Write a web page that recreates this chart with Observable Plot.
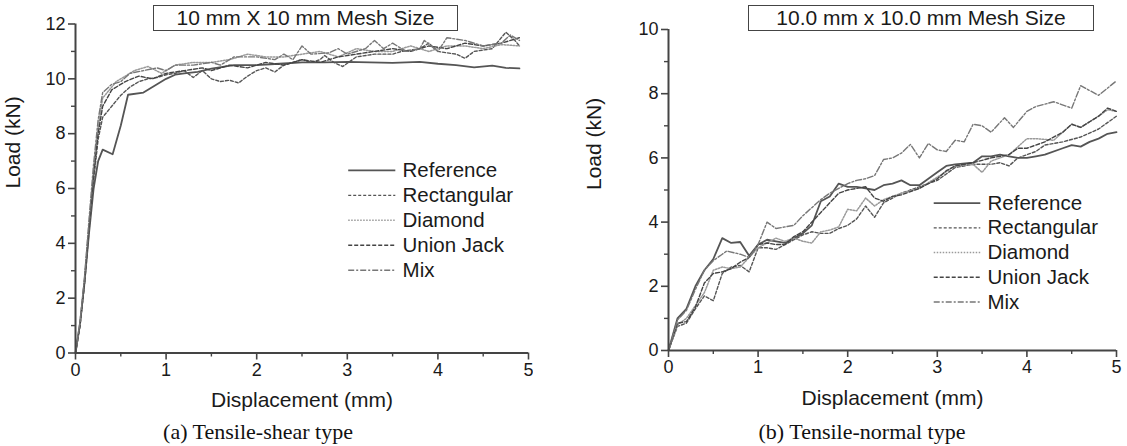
<!DOCTYPE html>
<html><head><meta charset="utf-8">
<script src="https://cdn.jsdelivr.net/npm/d3@7"></script>
<script src="https://cdn.jsdelivr.net/npm/@observablehq/plot@0.6"></script>
<style>
body{margin:0;background:#fff;width:1127px;height:446px;overflow:hidden;position:relative;font-family:"Liberation Sans",Arial,sans-serif;}
.panel{position:absolute;top:0;}
.title{position:absolute;border:1.5px solid #444;box-sizing:border-box;font-size:21px;color:#1a1a1a;display:flex;align-items:center;justify-content:center;white-space:nowrap;}
.caption{position:absolute;font-family:"Liberation Serif","Times New Roman",serif;font-size:22px;line-height:22px;color:#111;white-space:nowrap;transform:translateX(-50%);}
</style></head><body>
<div id="a" class="panel" style="left:0"></div>
<div id="b" class="panel" style="left:560px"></div>
<div class="title" style="left:153px;top:5px;width:305px;height:26px">10 mm X 10 mm Mesh Size</div>
<div class="title" style="left:748px;top:5px;width:346px;height:26px">10.0 mm x 10.0 mm Mesh Size</div>
<div class="caption" style="left:258px;top:421px">(a) Tensile-shear type</div>
<div class="caption" style="left:862px;top:421px">(b) Tensile-normal type</div>
<script>
const seriesNames = ["Reference", "Rectangular", "Diamond", "Union Jack", "Mix"];

// (a) Tensile-shear type: [displacement mm, load kN]
const shearReference = [[0,0],[0.05,1.1],[0.1,2.6],[0.15,4.4],[0.2,6.0],[0.25,7.0],[0.3,7.42],[0.41,7.25],[0.5,8.3],[0.58,9.42],[0.75,9.5],[0.9,9.8],[1.0,10.0],[1.1,10.15],[1.2,10.2],[1.35,10.25],[1.5,10.37],[1.75,10.5],[2.0,10.5],[2.25,10.55],[2.5,10.6],[2.75,10.6],[3.0,10.62],[3.25,10.6],[3.5,10.58],[3.8,10.62],[4.0,10.55],[4.2,10.5],[4.4,10.42],[4.6,10.48],[4.75,10.4],[4.9,10.38]];
const shearRectangular = [[0,0],[0.05,1.0],[0.1,2.5],[0.15,4.5],[0.2,6.3],[0.25,7.8],[0.3,8.6],[0.4,9.0],[0.5,9.4],[0.6,9.7],[0.7,9.9],[0.8,10.0],[0.9,10.05],[1.0,10.15],[1.1,10.2],[1.2,10.3],[1.3,10.05],[1.4,10.3],[1.5,10.0],[1.6,9.9],[1.7,9.95],[1.8,9.85],[1.9,10.1],[2.0,10.3],[2.1,10.4],[2.2,10.25],[2.3,10.5],[2.5,10.7],[2.6,10.6],[2.7,10.7],[2.75,10.85],[2.85,10.6],[2.95,10.45],[3.1,10.8],[3.3,10.9],[3.5,10.9],[3.6,11.0],[3.8,11.1],[3.9,11.3],[4.0,11.0],[4.2,10.9],[4.3,10.75],[4.4,11.0],[4.6,11.1],[4.75,11.7],[4.85,11.4],[4.9,11.2]];
const shearDiamond = [[0,0],[0.05,1.1],[0.1,2.7],[0.15,4.7],[0.2,6.6],[0.25,8.2],[0.3,9.3],[0.45,9.9],[0.55,10.1],[0.65,10.3],[0.8,10.45],[0.95,10.2],[1.1,10.5],[1.3,10.6],[1.5,10.6],[1.7,10.7],[1.9,10.9],[2.1,10.8],[2.3,10.8],[2.5,10.9],[2.7,11.0],[2.9,10.8],[3.1,11.1],[3.3,11.0],[3.5,11.0],[3.7,11.2],[3.9,11.0],[4.1,11.2],[4.3,11.2],[4.5,11.1],[4.7,11.25],[4.9,11.2]];
const shearUnionJack = [[0,0],[0.05,1.0],[0.1,2.6],[0.15,4.6],[0.2,6.5],[0.25,8.0],[0.3,9.0],[0.4,9.6],[0.55,9.9],[0.7,10.1],[0.85,10.0],[1.0,10.2],[1.2,10.3],[1.4,10.4],[1.5,10.3],[1.7,10.5],[1.9,10.4],[2.1,10.6],[2.3,10.5],[2.5,10.7],[2.7,10.6],[2.9,10.8],[3.1,10.9],[3.3,11.0],[3.5,11.1],[3.7,11.0],[3.9,11.2],[4.1,11.1],[4.3,11.3],[4.5,11.2],[4.7,11.3],[4.9,11.5]];
const shearMix = [[0,0],[0.05,1.1],[0.1,2.8],[0.15,4.9],[0.2,6.9],[0.25,8.5],[0.3,9.5],[0.4,9.8],[0.5,9.9],[0.6,10.2],[0.75,10.3],[0.9,10.4],[1.0,10.3],[1.1,10.5],[1.3,10.5],[1.5,10.6],[1.6,10.5],[1.75,10.8],[2.0,10.8],[2.2,10.7],[2.3,10.9],[2.4,10.7],[2.5,11.2],[2.6,10.9],[2.8,10.95],[2.9,11.1],[3.0,10.9],[3.2,11.1],[3.3,11.4],[3.4,11.1],[3.5,11.3],[3.65,11.0],[3.8,11.1],[3.85,11.4],[4.0,11.0],[4.1,11.5],[4.3,11.4],[4.5,11.2],[4.7,11.3],[4.8,11.6],[4.9,11.4]];

// (b) Tensile-normal type
const normalReference = [[0,0],[0.1,1.0],[0.2,1.3],[0.3,2.0],[0.4,2.5],[0.5,2.85],[0.6,3.5],[0.7,3.35],[0.8,3.38],[0.9,2.95],[1.0,3.3],[1.1,3.45],[1.2,3.4],[1.3,3.35],[1.4,3.5],[1.5,3.65],[1.6,3.9],[1.7,4.65],[1.8,4.8],[1.9,5.2],[2.0,5.1],[2.1,5.1],[2.2,5.05],[2.3,5.0],[2.4,5.15],[2.5,5.2],[2.6,5.3],[2.7,5.15],[2.8,5.15],[2.9,5.35],[3.0,5.55],[3.1,5.75],[3.2,5.8],[3.4,5.85],[3.5,6.05],[3.6,6.05],[3.7,6.1],[3.8,6.05],[3.9,6.0],[4.0,6.0],[4.1,6.05],[4.2,6.1],[4.4,6.3],[4.5,6.4],[4.6,6.35],[4.7,6.5],[4.8,6.6],[4.9,6.75],[5.0,6.8]];
const normalRectangular = [[0,0],[0.1,0.75],[0.2,0.85],[0.3,1.3],[0.4,1.7],[0.5,1.55],[0.6,2.4],[0.7,2.6],[0.8,2.65],[0.9,2.45],[1.0,3.2],[1.1,3.2],[1.2,3.15],[1.3,3.3],[1.4,3.45],[1.5,3.6],[1.6,3.7],[1.7,3.65],[1.8,3.65],[1.9,3.8],[2.0,3.9],[2.1,4.1],[2.2,4.5],[2.3,4.15],[2.4,4.6],[2.5,4.75],[2.6,4.9],[2.8,5.1],[3.0,5.3],[3.1,5.5],[3.2,5.7],[3.4,5.8],[3.6,5.8],[3.7,5.85],[3.8,5.75],[3.9,6.0],[4.0,6.1],[4.1,6.2],[4.2,6.4],[4.4,6.5],[4.6,6.65],[4.8,6.9],[5.0,7.3]];
const normalDiamond = [[0,0],[0.1,0.8],[0.2,1.0],[0.3,1.4],[0.4,1.8],[0.5,2.5],[0.6,2.6],[0.7,2.55],[0.8,2.6],[0.9,2.9],[1.0,3.2],[1.1,3.35],[1.2,3.5],[1.3,3.4],[1.4,3.5],[1.5,3.4],[1.6,3.35],[1.7,3.7],[1.8,3.75],[1.9,3.85],[2.0,4.4],[2.1,4.35],[2.2,4.75],[2.3,4.5],[2.4,4.7],[2.6,4.9],[2.8,5.05],[3.0,5.4],[3.2,5.75],[3.4,5.8],[3.5,5.55],[3.6,5.9],[3.8,6.1],[4.0,6.6],[4.1,6.6],[4.3,6.55],[4.5,7.05],[4.6,6.95],[4.8,7.3],[4.9,7.5],[5.0,7.45]];
const normalUnionJack = [[0,0],[0.1,0.85],[0.2,0.9],[0.3,1.35],[0.4,2.1],[0.5,2.4],[0.6,2.45],[0.7,2.55],[0.8,2.75],[0.9,2.9],[1.0,3.3],[1.1,3.35],[1.2,3.3],[1.3,3.3],[1.4,3.55],[1.5,3.7],[1.6,4.0],[1.7,4.3],[1.8,4.6],[1.9,4.9],[2.0,5.0],[2.1,5.05],[2.2,5.1],[2.3,4.75],[2.4,4.65],[2.5,4.8],[2.6,4.85],[2.8,5.05],[3.0,5.35],[3.1,5.6],[3.2,5.75],[3.4,5.85],[3.6,6.0],[3.8,6.1],[3.9,6.3],[4.0,6.3],[4.2,6.5],[4.4,6.8],[4.5,7.05],[4.6,6.95],[4.8,7.3],[4.9,7.55],[5.0,7.45]];
const normalMix = [[0,0],[0.1,0.95],[0.2,1.25],[0.3,1.9],[0.4,2.5],[0.5,2.8],[0.6,3.0],[0.65,3.1],[0.8,3.0],[0.9,2.9],[1.0,3.3],[1.1,4.0],[1.2,3.8],[1.3,3.85],[1.4,3.9],[1.5,4.2],[1.6,4.45],[1.7,4.7],[1.8,4.9],[1.9,5.05],[2.0,5.2],[2.1,5.3],[2.2,5.35],[2.3,5.45],[2.4,5.95],[2.5,6.0],[2.6,6.15],[2.7,6.42],[2.8,6.0],[2.9,6.45],[3.0,6.25],[3.1,6.2],[3.2,6.55],[3.3,6.5],[3.4,7.05],[3.5,7.0],[3.6,6.8],[3.75,7.25],[3.85,6.95],[4.0,7.45],[4.1,7.6],[4.3,7.75],[4.5,7.55],[4.6,8.25],[4.8,7.95],[5.0,8.4]];

const xTicks = [0, 1, 2, 3, 4, 5];
const xMinorTicks = [0.5, 1.5, 2.5, 3.5, 4.5];
const shearYTicks = [0, 2, 4, 6, 8, 10, 12];
const shearYMinor = [1, 3, 5, 7, 9, 11];
const normalYTicks = [0, 2, 4, 6, 8, 10];
const normalYMinor = [1, 3, 5, 7, 9];

const styles = {
  "Reference":   {stroke: "#555", strokeWidth: 1.8, strokeDasharray: null},
  "Rectangular": {stroke: "#555", strokeWidth: 1.4, strokeDasharray: "3,2"},
  "Diamond":     {stroke: "#9a9a9a", strokeWidth: 1.5, strokeDasharray: "1.5,1.5"},
  "Union Jack":  {stroke: "#444", strokeWidth: 1.4, strokeDasharray: "4,2"},
  "Mix":         {stroke: "#777", strokeWidth: 1.4, strokeDasharray: "6,2,2,2"}
};

function panel(cfg) {
  const marks = [];
  cfg.series.forEach((data, i) => {
    const st = styles[seriesNames[i]];
    marks.push(Plot.line(data, {x: d => d[0], y: d => d[1], stroke: st.stroke, strokeWidth: st.strokeWidth, strokeDasharray: st.strokeDasharray}));
  });
  // legend
  const L = cfg.legend;
  seriesNames.forEach((name, i) => {
    const st = styles[name];
    const ly = L.y0 - i * L.step;
    marks.push(Plot.link([name], {x1: L.x1, x2: L.x2, y1: ly, y2: ly, stroke: st.stroke, strokeWidth: st.strokeWidth, strokeDasharray: st.strokeDasharray}));
    marks.push(Plot.text([name], {x: L.xt, y: ly, text: d => d, textAnchor: "start", fontSize: 20.5, fill: "#1a1a1a"}));
  });
  // axes
  marks.push(
    Plot.ruleX([0], {stroke: "#444", strokeWidth: 2}),
    Plot.ruleY([0], {stroke: "#444", strokeWidth: 2}),
    Plot.axisX({ticks: xTicks, tickSize: 7, tickPadding: 3, tickFormat: d => String(d), fontSize: 18, label: null, stroke: "#444", strokeWidth: 1.6}),
    Plot.axisX({ticks: xMinorTicks, tickSize: 4, tickFormat: () => "", label: null, stroke: "#444", strokeWidth: 1.4}),
    Plot.axisY({ticks: cfg.yTicks, tickSize: 7, tickPadding: 3, tickFormat: d => String(d), fontSize: 18, label: null, stroke: "#444", strokeWidth: 1.6}),
    Plot.axisY({ticks: cfg.yMinor, tickSize: 4, tickFormat: () => "", label: null, stroke: "#444", strokeWidth: 1.4}),
    Plot.text(["Load (kN)"], {frameAnchor: "left", text: d => d, rotate: -90, dx: cfg.yLabelDx, fontSize: 21, fill: "#1a1a1a"}),
    Plot.text(["Displacement (mm)"], {frameAnchor: "bottom", text: d => d, dy: cfg.xLabelDy, fontSize: 21, fill: "#1a1a1a"})
  );
  const svg = Plot.plot({
    width: cfg.width, height: cfg.height,
    marginLeft: cfg.mL, marginRight: cfg.mR, marginTop: cfg.mT, marginBottom: cfg.mB,
    x: {domain: [0, 5]},
    y: {domain: [0, cfg.yMax]},
    style: {fontFamily: "'Liberation Sans', Arial, sans-serif", color: "#1a1a1a", background: "transparent", overflow: "hidden"},
    marks
  });
  document.getElementById(cfg.el).appendChild(svg);
}

panel({
  el: "a", width: 533, height: 420, mL: 75, mR: 5, mT: 23.5, mB: 67.5, yMax: 12,
  yTicks: shearYTicks, yMinor: shearYMinor,
  series: [shearReference, shearRectangular, shearDiamond, shearUnionJack, shearMix],
  legend: {x1: 3.01, x2: 3.53, xt: 3.61, y0: 6.66, step: 0.91},
  yLabelDx: -62, xLabelDy: 54
});
panel({
  el: "b", width: 567, height: 420, mL: 108, mR: 11, mT: 29, mB: 70, yMax: 10,
  yTicks: normalYTicks, yMinor: normalYMinor,
  series: [normalReference, normalRectangular, normalDiamond, normalUnionJack, normalMix],
  legend: {x1: 2.96, x2: 3.48, xt: 3.56, y0: 4.59, step: 0.77},
  yLabelDx: -74, xLabelDy: 54
});
</script>
</body></html>
